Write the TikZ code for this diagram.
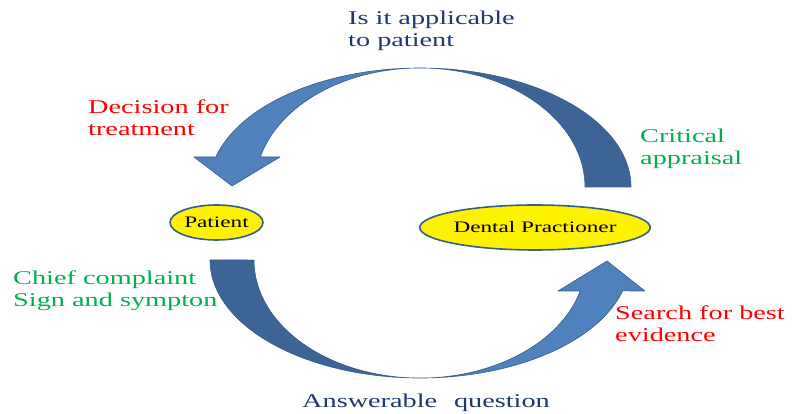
\documentclass[tikz,border=0pt]{standalone}
\usepackage{fontspec}
\setmainfont[FakeStretch=1.45]{Liberation Serif}
\usetikzlibrary{shapes.geometric}
\definecolor{navytxt}{RGB}{31,56,110}
\definecolor{redtxt}{RGB}{255,0,0}
\definecolor{greentxt}{RGB}{0,176,80}
\definecolor{lightblue}{RGB}{79,129,189}
\definecolor{darkblue}{RGB}{60,100,150}
\definecolor{edgeblue}{RGB}{56,93,138}
\begin{document}
\begin{tikzpicture}[x=1pt,y=1pt,
  lbl/.style={anchor=base west, inner sep=0pt, align=left, font=\fontsize{19.5}{22}\selectfont},
  arrowpart/.style={draw=edgeblue, line width=0.6pt, line join=round},
  oval/.style={ellipse, draw=edgeblue, line width=1.6pt, fill=yellow, inner sep=0pt, font=\fontsize{16}{18}\selectfont}]
\useasboundingbox (0,0) rectangle (792,414);
% top arrow (tail right, head left)
\fill[darkblue] (631,227) arc[start angle=0, end angle=90, x radius=211pt, y radius=119pt]
  arc[start angle=90, end angle=0, x radius=165pt, y radius=119pt] -- cycle;
\fill[lightblue] (420,346) arc[start angle=90, end angle=165.4, x radius=211pt, y radius=119pt]
  -- (194,257) -- (232,228) -- (280,257) -- (260.3,257)
  arc[start angle=165.4, end angle=90, x radius=165pt, y radius=119pt] -- cycle;
\draw[arrowpart] (631,227) arc[start angle=0, end angle=165.4, x radius=211pt, y radius=119pt]
  -- (194,257) -- (232,228) -- (280,257) -- (260.3,257)
  arc[start angle=165.4, end angle=0, x radius=165pt, y radius=119pt] -- cycle;
% bottom arrow (tail left, head right)
\fill[darkblue] (210,154) arc[start angle=180, end angle=270, x radius=210pt, y radius=118pt]
  arc[start angle=270, end angle=180, x radius=166pt, y radius=118pt] -- cycle;
\fill[lightblue] (420,36) arc[start angle=270, end angle=344.8, x radius=210pt, y radius=118pt]
  -- (645,123) -- (607,153) -- (558,123) -- (580.2,123)
  arc[start angle=344.8, end angle=270, x radius=166pt, y radius=118pt] -- cycle;
\draw[arrowpart] (210,154) arc[start angle=180, end angle=344.8, x radius=210pt, y radius=118pt]
  -- (645,123) -- (607,153) -- (558,123) -- (580.2,123)
  arc[start angle=344.8, end angle=180, x radius=166pt, y radius=118pt] -- cycle;
% ovals
\node[oval, minimum width=93pt, minimum height=35pt] (patient) at (216.5,191.5) {Patient};
\node[oval, minimum width=214pt, minimum height=45pt] (dentist) at (535,186.5) {Dental Practioner};
% labels (anchor = baseline of last line)
\node[lbl, text=navytxt] (apply) at (348,367) {Is it applicable\\to patient};
\node[lbl, text=redtxt] (decide) at (88,278) {Decision for\\treatment};
\node[lbl, text=greentxt] (critical) at (640,249) {Critical\\appraisal};
\node[lbl, text=greentxt] (chief) at (13,107) {Chief complaint\\Sign and sympton};
\node[lbl, text=redtxt] (search) at (615,72) {Search for best\\evidence};
\node[lbl, text=navytxt] (answer) at (302,6) {Answerable\hspace{0.5em} question};
\end{tikzpicture}
\end{document}
